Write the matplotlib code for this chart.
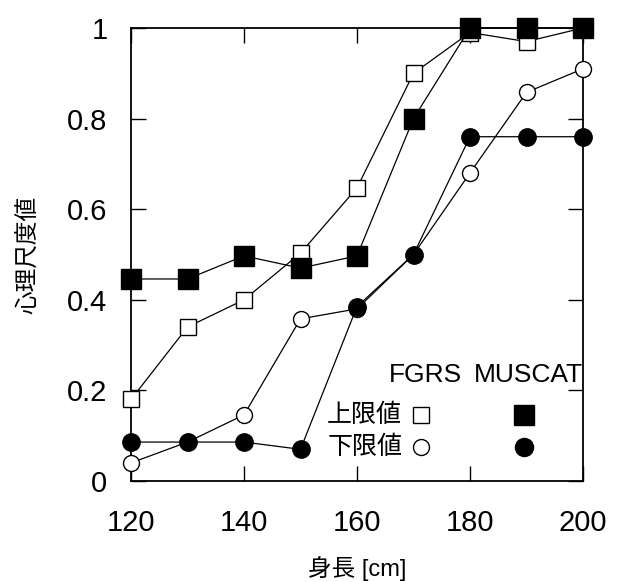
import matplotlib
matplotlib.use('Agg')
import matplotlib.pyplot as plt
from matplotlib.ticker import FormatStrFormatter

plt.rcParams['font.family'] = ['Liberation Sans', 'Noto Sans CJK JP']

height = [120, 130, 140, 150, 160, 170, 180, 190, 200]
fgrs_upper = [0.18, 0.34, 0.40, 0.503, 0.647, 0.90, 0.99, 0.97, 1.0]
fgrs_lower = [0.04, 0.086, 0.146, 0.358, 0.38, 0.50, 0.68, 0.858, 0.91]
muscat_upper = [0.446, 0.446, 0.497, 0.47, 0.497, 0.80, 1.0, 1.0, 1.0]
muscat_lower = [0.086, 0.086, 0.086, 0.07, 0.385, 0.50, 0.76, 0.76, 0.76]

fig = plt.figure(figsize=(6.25, 5.82), dpi=100)
ax = fig.add_axes([0.2096, 0.1735, 0.7232, 0.7784])

ax.plot(height, fgrs_upper, color='black', lw=0.9, marker='s', ms=11,
        mfc='white', mec='black', mew=1.0, clip_on=False, zorder=3)
ax.plot(height, fgrs_lower, color='black', lw=0.9, marker='o', ms=11.5,
        mfc='white', mec='black', mew=1.0, clip_on=False, zorder=3)
ax.plot(height, muscat_upper, color='black', lw=0.9, marker='s', ms=15,
        mfc='black', mec='black', clip_on=False, zorder=4)
ax.plot(height, muscat_lower, color='black', lw=0.9, marker='o', ms=12.5,
        mfc='black', mec='black', clip_on=False, zorder=4)

ax.set_xlim(120, 200)
ax.set_ylim(0, 1)
ax.set_xticks([120, 140, 160, 180, 200])
ax.set_yticks([0, 0.2, 0.4, 0.6, 0.8, 1.0])
ax.yaxis.set_major_formatter(FormatStrFormatter('%g'))
ax.tick_params(direction='in', length=11, width=1, top=True, right=True,
               labelsize=21)
ax.tick_params(axis='x', pad=20)
ax.tick_params(axis='y', pad=17)
for s in ax.spines.values():
    s.set_linewidth(1.3)

ax.set_xlabel('身長 [cm]', fontsize=17, labelpad=14)
ax.set_ylabel('心理尺度値', fontsize=17, labelpad=19)

# hand-made legend
ax.text(0.571, 0.234, 'FGRS', transform=ax.transAxes, fontsize=19,
        ha='left', va='center')
ax.text(0.999, 0.234, 'MUSCAT', transform=ax.transAxes, fontsize=19,
        ha='right', va='center')
ax.text(0.434, 0.146, '上限値', transform=ax.transAxes, fontsize=18,
        ha='left', va='center')
ax.text(0.434, 0.075, '下限値', transform=ax.transAxes, fontsize=18,
        ha='left', va='center')
ax.plot([0.642], [0.146], transform=ax.transAxes, marker='s', ms=11,
        mfc='white', mec='black', mew=1.0, ls='none')
ax.plot([0.642], [0.075], transform=ax.transAxes, marker='o', ms=11.5,
        mfc='white', mec='black', mew=1.0, ls='none')
ax.plot([0.869], [0.146], transform=ax.transAxes, marker='s', ms=14,
        mfc='black', mec='black', ls='none')
ax.plot([0.869], [0.075], transform=ax.transAxes, marker='o', ms=13,
        mfc='black', mec='black', ls='none')

fig.savefig('out.png', dpi=100)
